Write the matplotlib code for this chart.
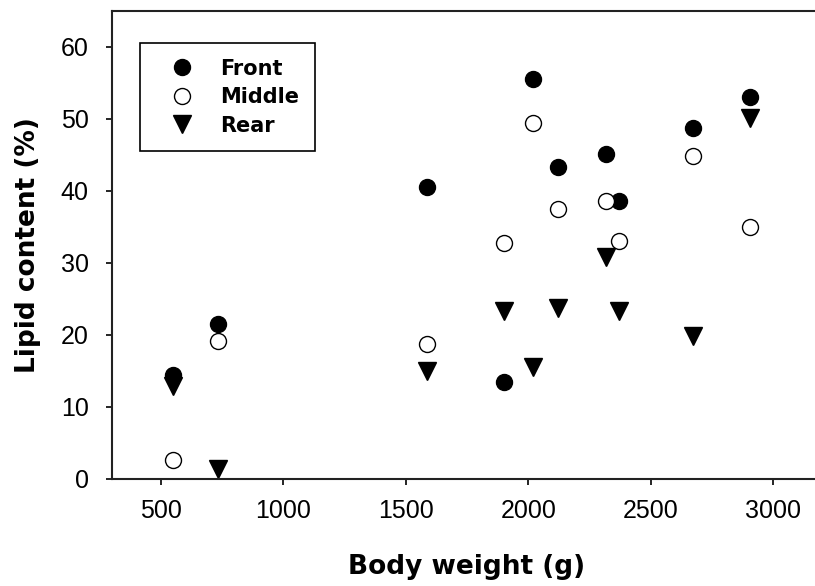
import matplotlib
matplotlib.use("Agg")
import matplotlib.pyplot as plt

# Data
body_weight = [549, 733, 1587, 1900, 2020, 2120, 2316, 2370, 2674, 2905]
front = [14.5, 21.5, 40.5, 13.5, 55.5, 43.3, 45.1, 38.6, 48.7, 53.0]
middle = [2.6, 19.2, 18.7, 32.8, 49.5, 37.5, 38.6, 33.1, 44.8, 35.0]
rear = [12.9, 1.4, 15.0, 23.3, 15.5, 23.8, 30.9, 23.3, 19.8, 50.1]
series_labels = ["Front", "Middle", "Rear"]
x_ticks = [500, 1000, 1500, 2000, 2500, 3000]
y_ticks = [0, 10, 20, 30, 40, 50, 60]

W, H = 815, 586
fig = plt.figure(figsize=(W / 100, H / 100), dpi=100)
ax = fig.add_axes([111.7 / W, (H - 479) / H, 710.6 / W, 468 / H])

ax.plot(body_weight, front, linestyle="none", marker="o", markersize=11.5,
        markerfacecolor="black", markeredgecolor="black", label=series_labels[0])
ax.plot(body_weight, middle, linestyle="none", marker="o", markersize=11.5,
        markerfacecolor="white", markeredgecolor="black", markeredgewidth=1.0,
        label=series_labels[1])
ax.plot(body_weight, rear, linestyle="none", marker="v", markersize=13,
        markerfacecolor="black", markeredgecolor="black", label=series_labels[2])

ax.set_xlim(300, 3200)
ax.set_ylim(0, 65)
ax.set_xticks(x_ticks)
ax.set_yticks(y_ticks)

tick_font = dict(family="Liberation Sans", size=18)
ax.set_xticklabels([str(t) for t in x_ticks], fontdict=tick_font)
ax.set_yticklabels([str(t) for t in y_ticks], fontdict=tick_font)
ax.tick_params(axis="both", direction="out", length=4.5, width=1.2, color="black")
ax.tick_params(axis="x", pad=10)
ax.tick_params(axis="y", pad=12)

for side in ["left", "bottom", "top"]:
    ax.spines[side].set_linewidth(1.5)
    ax.spines[side].set_color("#222222")
ax.spines["right"].set_visible(False)

label_font = dict(family="DejaVu Sans", weight="bold", size=19)
ax.set_xlabel("Body weight (g)", fontdict=label_font, labelpad=22)
ax.set_ylabel("Lipid content (%)", fontdict=label_font, labelpad=14)

leg = ax.legend(loc="upper left", bbox_to_anchor=(140 / W, 1 - 43 / H),
                bbox_transform=fig.transFigure, borderaxespad=0,
                numpoints=1, fancybox=False, framealpha=1,
                edgecolor="black", borderpad=0.75, labelspacing=0.41,
                handlelength=2.54, handletextpad=0.56,
                prop=dict(family="DejaVu Sans", weight="bold", size=15))
leg.get_frame().set_linewidth(1.2)

fig.savefig("out.png", dpi=100)
